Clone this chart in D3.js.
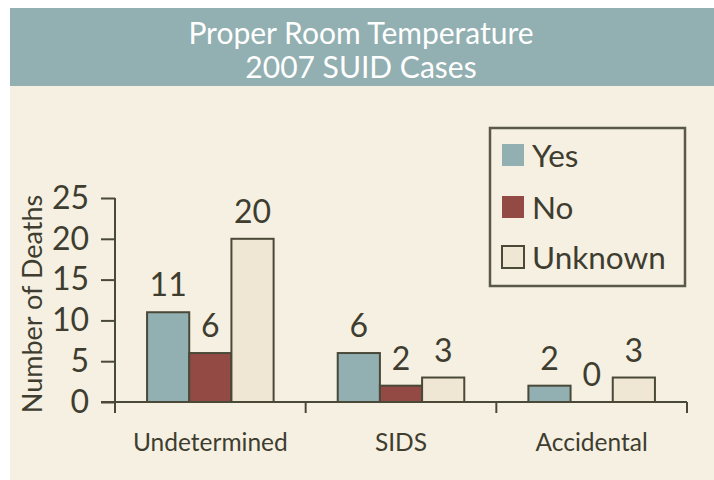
<!DOCTYPE html>
<html>
<head>
<meta charset="utf-8">
<script src="https://cdn.jsdelivr.net/npm/d3@7"></script>
<style>
  body { margin: 0; background: #ffffff; }
  svg { display: block; font-family: Lato, "Open Sans", sans-serif; }
</style>
</head>
<body>
<div id="chart"></div>
<script>
// Chart data
const categories = ['Undetermined', 'SIDS', 'Accidental'];
const seriesNames = ['Yes', 'No', 'Unknown'];
const yesValues = [11, 6, 2];
const noValues = [6, 2, 0];
const unknownValues = [20, 3, 3];
const yTicks = [0, 5, 10, 15, 20, 25];
const titleLines = ['Proper Room Temperature', '2007 SUID Cases'];

const colors = { Yes: '#92afb2', No: '#934a45', Unknown: '#efe7d3' };
const ink = '#3e3d2f';
const strokeCol = '#4a4938';

const width = 714, height = 480;

const svg = d3.select('#chart')
    .append('svg')
    .attr('width', width)
    .attr('height', height);

// Panel background + header band
svg.append('rect')
    .attr('x', 10).attr('y', 8)
    .attr('width', width - 10).attr('height', height - 8)
    .attr('fill', '#f5f0e2');

svg.append('rect')
    .attr('x', 10).attr('y', 8)
    .attr('width', width - 10).attr('height', 78)
    .attr('fill', '#92afb1');

svg.append('g')
    .selectAll('text')
    .data(titleLines)
    .join('text')
    .attr('x', 361)
    .attr('y', (d, i) => 44 + i * 34)
    .attr('text-anchor', 'middle')
    .attr('fill', '#ffffff')
    .style('font-size', '30px')
    .text(d => d);

// Scales
const x = d3.scaleBand()
    .domain(categories)
    .range([115, 687])
    .padding(0);

const xSub = d3.scaleBand()
    .domain(seriesNames)
    .range([0, x.bandwidth()])
    .paddingInner(0)
    .paddingOuter(0.76);

const y = d3.scaleLinear()
    .domain([0, 25])
    .range([402, 198]);

// Table rows built from the arrays
const rows = categories.map((c, i) => ({
    category: c,
    values: [
        { key: 'Yes', value: yesValues[i] },
        { key: 'No', value: noValues[i] },
        { key: 'Unknown', value: unknownValues[i] }
    ]
}));

// Y axis
const yAxis = svg.append('g')
    .attr('transform', 'translate(115,0)')
    .call(d3.axisLeft(y).tickValues(yTicks).tickSize(14).tickPadding(12));
yAxis.select('.domain').attr('stroke', strokeCol).attr('stroke-width', 2)
    .attr('d', `M0,${y(25)}V${y(0)}`);
yAxis.selectAll('.tick line').attr('stroke', strokeCol).attr('stroke-width', 2);
yAxis.selectAll('.tick text')
    .attr('fill', ink)
    .style('font-size', '32px')
    .style('font-family', 'Lato, sans-serif');

// X axis
const xAxis = svg.append('g')
    .attr('transform', `translate(0,${y(0)})`)
    .call(d3.axisBottom(x).tickSize(0).tickPadding(32));
xAxis.select('.domain').attr('stroke', strokeCol).attr('stroke-width', 2)
    .attr('d', `M101,0H687`);
xAxis.selectAll('.tick text')
    .attr('fill', ink)
    .style('font-size', '24.5px')
    .style('font-family', 'Lato, sans-serif');

// Band boundary ticks
const bounds = categories.map(c => x(c)).concat([x.range()[1]]);
xAxis.append('g')
    .selectAll('line')
    .data(bounds)
    .join('line')
    .attr('x1', d => d).attr('x2', d => d)
    .attr('y1', 0).attr('y2', 11)
    .attr('stroke', strokeCol)
    .attr('stroke-width', 2);

// Y axis title
svg.append('text')
    .attr('transform', 'translate(42,304) rotate(-90)')
    .attr('text-anchor', 'middle')
    .attr('fill', ink)
    .style('font-size', '27px')
    .text('Number of Deaths');

// Bars
const groups = svg.append('g')
    .selectAll('g')
    .data(rows)
    .join('g')
    .attr('transform', d => `translate(${x(d.category)},0)`);

groups.selectAll('rect')
    .data(d => d.values.filter(v => v.value > 0))
    .join('rect')
    .attr('x', d => xSub(d.key))
    .attr('y', d => y(d.value))
    .attr('width', xSub.bandwidth())
    .attr('height', d => y(0) - y(d.value))
    .attr('fill', d => colors[d.key])
    .attr('stroke', strokeCol)
    .attr('stroke-width', 2);

groups.selectAll('text')
    .data(d => d.values)
    .join('text')
    .attr('x', d => xSub(d.key) + xSub.bandwidth() / 2)
    .attr('y', d => y(d.value) - 16)
    .attr('text-anchor', 'middle')
    .attr('fill', ink)
    .style('font-size', '32px')
    .text(d => d.value);

// Legend
const legend = svg.append('g');
legend.append('rect')
    .attr('x', 490).attr('y', 128)
    .attr('width', 195).attr('height', 158)
    .attr('fill', 'none')
    .attr('stroke', '#5a5947')
    .attr('stroke-width', 2.5);

const items = legend.selectAll('g')
    .data(seriesNames)
    .join('g')
    .attr('transform', (d, i) => `translate(502,${[144, 196, 246][i]})`);

items.append('rect')
    .attr('width', 22).attr('height', 22)
    .attr('fill', d => colors[d])
    .attr('stroke', d => d === 'Unknown' ? strokeCol : 'none')
    .attr('stroke-width', 2);

items.append('text')
    .attr('x', 30)
    .attr('y', 23)
    .attr('fill', ink)
    .style('font-size', '31.5px')
    .text(d => d);
</script>
</body>
</html>
